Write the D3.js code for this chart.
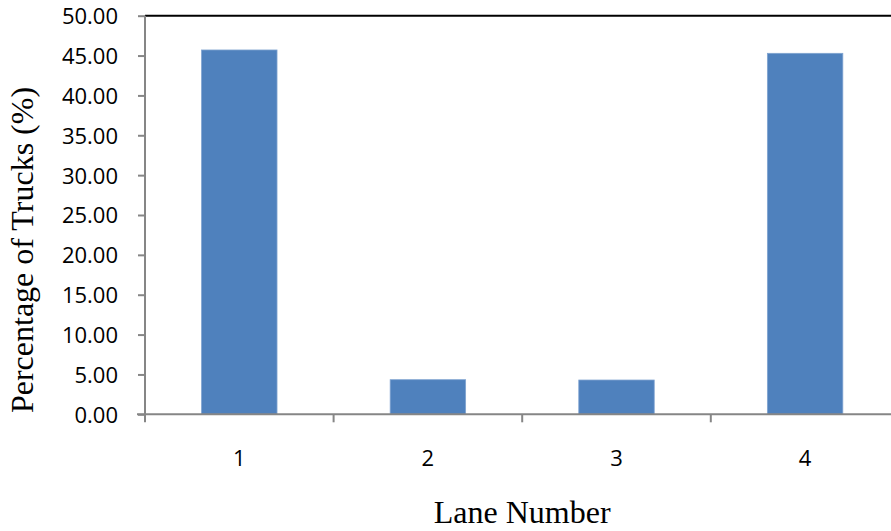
<!DOCTYPE html>
<html>
<head>
<meta charset="utf-8">
<script src="https://cdn.jsdelivr.net/npm/d3@7"></script>
<style>
  html, body { margin: 0; padding: 0; background: #ffffff; }
  svg { display: block; }
</style>
</head>
<body>
<svg id="chart" width="891" height="531"></svg>
<script>
// Data
const lanes = ["1", "2", "3", "4"];
const truckPercent = [45.70, 4.34, 4.30, 45.28];
const yTicks = [0, 5, 10, 15, 20, 25, 30, 35, 40, 45, 50];
const xTitle = "Lane Number";
const yTitle = "Percentage of Trucks (%)";

const W = 891, H = 531;
const plot = { left: 145, right: 899.4, top: 15.7, bottom: 414.3 };

const svg = d3.select("#chart");

const x = d3.scaleBand().domain(lanes).range([plot.left, plot.right]).padding(0);
const xBar = d3.scaleBand().domain(lanes).range([plot.left, plot.right])
  .paddingInner(0.6).paddingOuter(0.3);
const y = d3.scaleLinear().domain([0, 50]).range([plot.bottom, plot.top]);

const axisColor = "#868686";
const sans = "'Open Sans', 'Liberation Sans', sans-serif";
const serif = "'Liberation Serif', 'Times New Roman', serif";

// Bars
svg.append("g").selectAll("rect")
  .data(lanes)
  .join("rect")
  .attr("x", d => xBar(d))
  .attr("width", xBar.bandwidth())
  .attr("y", (d, i) => y(truckPercent[i]))
  .attr("height", (d, i) => y(0) - y(truckPercent[i]))
  .attr("fill", "#4F81BD")
  .attr("stroke", "#7FA3D0")
  .attr("stroke-width", 0.8);

// Top border of plot area
svg.append("line")
  .attr("x1", plot.left).attr("x2", W)
  .attr("y1", y(50)).attr("y2", y(50))
  .attr("stroke", "#000").attr("stroke-width", 2);

// Y axis
const yAxis = d3.axisLeft(y).tickValues(yTicks).tickSize(7).tickPadding(20)
  .tickFormat(d3.format(".2f"));
const gy = svg.append("g").attr("transform", `translate(${plot.left},0)`).call(yAxis);
gy.select(".domain").attr("stroke", axisColor).attr("stroke-width", 2)
  .attr("d", `M0,${plot.top}V${plot.bottom}`);
gy.selectAll(".tick line").attr("stroke", axisColor).attr("stroke-width", 2);
gy.selectAll(".tick text")
  .attr("font-family", sans).attr("font-size", 22).attr("fill", "#000")
  .attr("dy", "0.36em");

// X axis (ticks at band boundaries)
const gx = svg.append("g");
gx.append("line")
  .attr("x1", plot.left - 8).attr("x2", W)
  .attr("y1", y(0)).attr("y2", y(0))
  .attr("stroke", axisColor).attr("stroke-width", 2);
const boundaries = lanes.map(d => x(d)).concat([x(lanes[lanes.length - 1]) + x.bandwidth()]);
gx.selectAll("line.xt")
  .data(boundaries)
  .join("line")
  .attr("class", "xt")
  .attr("x1", d => d).attr("x2", d => d)
  .attr("y1", y(0)).attr("y2", y(0) + 8)
  .attr("stroke", axisColor).attr("stroke-width", 2);
gx.selectAll("text")
  .data(lanes)
  .join("text")
  .attr("x", d => x(d) + x.bandwidth() / 2)
  .attr("y", 465.5)
  .attr("text-anchor", "middle")
  .attr("font-family", sans).attr("font-size", 22).attr("fill", "#000")
  .text(d => d);

// Axis titles
svg.append("text")
  .attr("x", (plot.left + plot.right) / 2)
  .attr("y", 523)
  .attr("text-anchor", "middle")
  .attr("font-family", serif).attr("font-size", 32).attr("fill", "#000")
  .text(xTitle);

svg.append("text")
  .attr("transform", `translate(33,250) rotate(-90)`)
  .attr("text-anchor", "middle")
  .attr("font-family", serif).attr("font-size", 32).attr("fill", "#000")
  .text(yTitle);
</script>
</body>
</html>
